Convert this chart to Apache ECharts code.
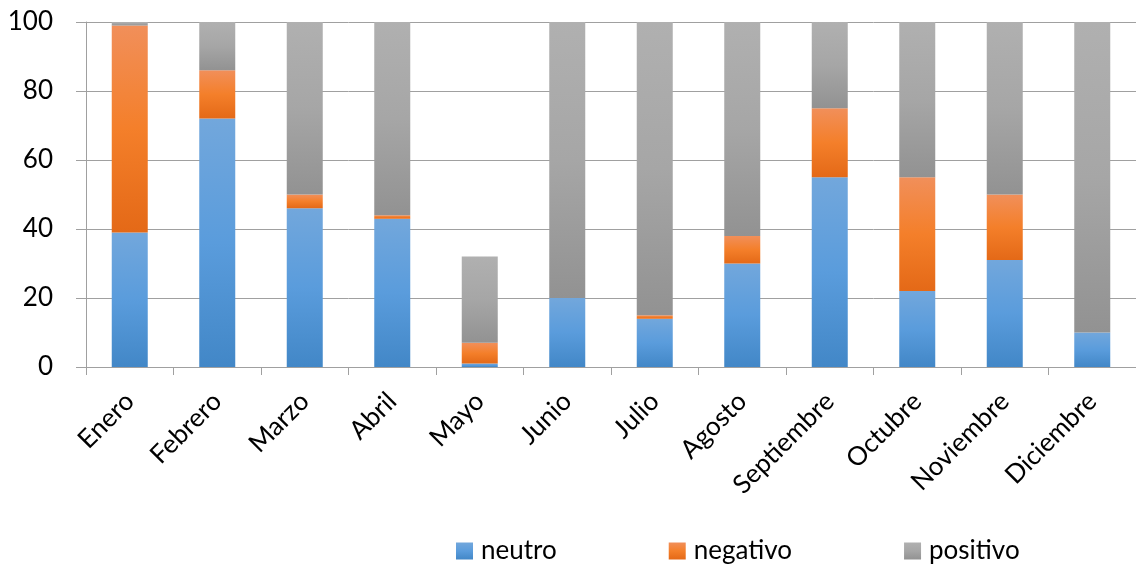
<!DOCTYPE html>
<html>
<head>
<meta charset="utf-8">
<script src="https://cdn.jsdelivr.net/npm/echarts@6/dist/echarts.min.js"></script>
<style>
html,body{margin:0;padding:0;background:#fff;}
#chart{width:1136px;height:565px;}
</style>
</head>
<body>
<div id="chart"></div>
<script>
const categories = ['Enero','Febrero','Marzo','Abril','Mayo','Junio','Julio','Agosto','Septiembre','Octubre','Noviembre','Diciembre'];
const neutro   = [39, 72, 46, 43, 1, 20, 14, 30, 55, 22, 31, 10];
const negativo = [60, 14, 4, 1, 6, 0, 1, 8, 20, 33, 19, 0];
const positivo = [1, 14, 50, 56, 25, 80, 85, 62, 25, 45, 50, 90];
const seriesNames = ['neutro', 'negativo', 'positivo'];

function grad(c0, c1, c2) {
  return new echarts.graphic.LinearGradient(0, 0, 0, 1, [
    {offset: 0, color: c0}, {offset: 0.5, color: c1}, {offset: 1, color: c2}
  ]);
}
const colors = [
  grad('#72a7dc', '#5a9cdc', '#4287c7'),
  grad('#f18f5a', '#f47f2a', '#e46917'),
  grad('#b0b0b0', '#a6a6a6', '#929292')
];
const FONT = 'Lato';
const chart = echarts.init(document.getElementById('chart'));
const mk = (name, data, i) => ({
  name: name, type: 'bar', stack: 'total', data: data, barWidth: 36,
  itemStyle: {color: colors[i]}
});
chart.setOption({
  animation: false,
  textStyle: {fontFamily: FONT},
  grid: {left: 86, right: -4, top: 22, bottom: 198, containLabel: false},
  legend: {
    data: seriesNames, left: 451, top: 533, icon: 'rect',
    itemWidth: 17, itemHeight: 17, itemGap: 112,
    textStyle: {fontFamily: FONT, fontSize: 26, color: '#000', padding: [0, 0, 0, 3]}
  },
  xAxis: {
    type: 'category', data: categories,
    axisLine: {lineStyle: {color: '#a0a0a0', width: 1}},
    axisTick: {show: true, length: 8, lineStyle: {color: '#a0a0a0'}},
    axisLabel: {rotate: 45, fontSize: 26, color: '#000', margin: 30, fontFamily: FONT}
  },
  yAxis: {
    type: 'value', min: 0, max: 100, interval: 20,
    axisLine: {show: true, lineStyle: {color: '#a0a0a0', width: 1}},
    axisTick: {show: true, length: 10, lineStyle: {color: '#a0a0a0'}},
    axisLabel: {fontSize: 26, color: '#000', margin: 33, fontFamily: FONT},
    splitLine: {show: true, lineStyle: {color: '#a0a0a0', width: 1}}
  },
  series: [mk('neutro', neutro, 0), mk('negativo', negativo, 1), mk('positivo', positivo, 2)]
});
</script>
</body>
</html>
